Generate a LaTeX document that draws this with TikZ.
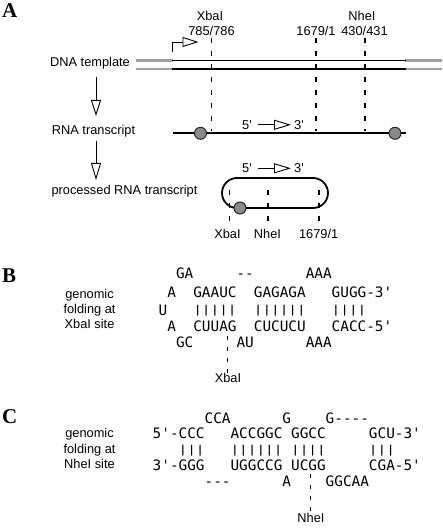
\documentclass[tikz,border=0pt]{standalone}
\usepackage{fontspec}
\usepackage{graphicx}
\setmainfont{Liberation Sans}
\newfontfamily\seqfont{DejaVu Sans Mono}
\newfontfamily\panelfont{Liberation Serif}
\usetikzlibrary{arrows.meta}
\definecolor{dnagray}{HTML}{A0A0A0}
\definecolor{dotgray}{HTML}{8A8A8A}
\newcommand\q{\textquotesingle}
\newcommand\bars[1]{\scalebox{1}[0.75]{#1}}
\tikzset{
  lab/.style={font=\fontsize{12.8}{14}\selectfont, inner sep=0pt, anchor=base},
  panel/.style={font=\panelfont\bfseries\fontsize{21}{22}\selectfont, inner sep=0pt, anchor=base west},
  seq/.style={font=\seqfont\fontsize{14.37}{16}\selectfont, inner sep=0pt, anchor=base west},
  dnaline/.style={line width=1.8pt},
  grayline/.style={line width=2.8pt, dnagray},
  guide/.style={line width=1.1pt, dash pattern=on 5pt off 8pt},
  flow/.style={line width=0.9pt, -{Triangle[open, length=16pt, width=10pt]}},
  small arrow/.style={line width=0.9pt, -{Triangle[open, length=17pt, width=10pt]}},
  dot/.style={circle, fill=dotgray, draw=black!85, line width=1pt, minimum size=12pt, inner sep=0pt},
}
\begin{document}
\begin{tikzpicture}[x=1pt, y=-1pt]
\useasboundingbox[fill=white] (0,0) rectangle (442,529);

% ---------- Panel A ----------
\node[panel] (pa) at (2,18) {A};

\node[lab] (xba) at (210,21) {XbaI};
\node[lab] (xbn) at (211.5,36) {785/786};
\node[lab] (nhe) at (362,21) {NheI};
\node[lab] (n1679) at (316,36) {1679/1};
\node[lab] (nhen) at (364.5,36) {430/431};

% DNA template
\draw[grayline] (136,60.5) -- (173,60.5);
\draw[grayline] (136,69) -- (173,69);
\draw[grayline] (405,60.5) -- (442,60.5);
\draw[grayline] (405,69) -- (442,69);
\draw[dnaline] (172,60.5) -- (406,60.5);
\draw[dnaline] (172,69) -- (406,69);

% promoter
\coordinate (prs) at (172.5,52.5);
\coordinate (pre) at (198.5,42);
\draw[line width=0.9pt, -{Triangle[open, length=16pt, width=10pt]}] (prs) |- (pre);

% guide lines
\draw[guide] (211.7,38) -- (211.7,131);
\draw[guide] (316,38) -- (316,131);
\draw[guide] (365,38) -- (365,131);

\node[lab] (dna) at (90,66.5) {DNA template};
\node[lab] (rna) at (93.5,134.5) {RNA transcript};
\node[lab] (proc) at (124.5,194.5) {processed RNA transcript};

\coordinate (f1a) at (96,77);
\coordinate (f1b) at (96,116);
\draw[flow] (f1a) -- (f1b);
\coordinate (f2a) at (96,141);
\coordinate (f2b) at (96,180);
\draw[small arrow] (f2a) -- (f2b);

% RNA transcript
\draw[dnaline] (173,133.3) -- (406,133.3);
\node[dot] (c1) at (200.5,133.3) {};
\node[dot] (c2) at (395,133.3) {};
\node[lab] (r5) at (247,129.5) {5\q};
\node[lab] (r3) at (299,129.5) {3\q};
\draw[line width=0.9pt, -{Triangle[open, length=17pt, width=10pt]}] (258,124.8) -- (291,124.8);

% processed loop
\node[lab] (l5) at (247,173) {5\q};
\node[lab] (l3) at (299,173) {3\q};
\draw[line width=0.9pt, -{Triangle[open, length=17pt, width=10pt]}] (258,168.3) -- (291,168.3);
\draw[guide] (229.3,190) -- (229.3,224);
\draw[guide] (268,190) -- (268,224);
\draw[guide] (319,190) -- (319,224);
\draw[line width=1.8pt, rounded corners=15pt] (222,178) rectangle (328,208);
\node[dot] (c3) at (240,208) {};
\node[lab] (lx) at (227.5,238) {XbaI};
\node[lab] (ln) at (267.5,238) {NheI};
\node[lab] (l16) at (318.7,238) {1679/1};

% ---------- Panel B ----------
\node[panel] (pb) at (2,282) {B};
\node[lab] (gb1) at (89.5,298) {genomic};
\node[lab] (gb2) at (89.5,313.5) {folding at};
\node[lab] (gb3) at (89.5,328.5) {XbaI site};

\def\xb{158.5}
\def\p{8.65}
\node[seq] (b11) at ({\xb+2*\p},278.8) {GA};
\node[seq] (b12) at ({\xb+9*\p},278.8) {--};
\node[seq] (b13) at ({\xb+17*\p},278.8) {AAA};
\node[seq] (b21) at ({\xb+1*\p},297.3) {A};
\node[seq] (b22) at ({\xb+4*\p},297.3) {GAAUC};
\node[seq] (b23) at ({\xb+11*\p},297.3) {GAGAGA};
\node[seq] (b24) at ({\xb+20*\p},297.3) {GUGG-3\q};
\node[seq] (b31) at ({\xb+0*\p},315) {U};
\node[seq] (b32) at ({\xb+4*\p},313) {\bars{|||||}};
\node[seq] (b33) at ({\xb+11*\p},313) {\bars{||||||}};
\node[seq] (b34) at ({\xb+20*\p},313) {\bars{||||}};
\node[seq] (b41) at ({\xb+1*\p},331.8) {A};
\node[seq] (b42) at ({\xb+4*\p},331.8) {CUUAG};
\node[seq] (b43) at ({\xb+11*\p},331.8) {CUCUCU};
\node[seq] (b44) at ({\xb+20*\p},331.8) {CACC-5\q};
\node[seq] (b51) at ({\xb+2*\p},347.3) {GC};
\node[seq] (b52) at ({\xb+9*\p},347.3) {AU};
\node[seq] (b53) at ({\xb+17*\p},347.3) {AAA};
\node[lab] (bx) at (228,382.5) {XbaI};
\coordinate (bxt) at (227.7,336);
\draw[guide, dash pattern=on 4pt off 7pt] (bxt) -- (bxt |- bx.north);

% ---------- Panel C ----------
\node[panel] (pc) at (2,423) {C};
\node[lab] (gc1) at (89.5,437.5) {genomic};
\node[lab] (gc2) at (89.5,453) {folding at};
\node[lab] (gc3) at (89.5,468) {NheI site};

\def\xc{152.5}
\node[seq] (c11) at ({\xc+6*\p},423.3) {CCA};
\node[seq] (c12) at ({\xc+15*\p},423.3) {G};
\node[seq] (c13) at ({\xc+20*\p},423.3) {G----};
\node[seq] (c21) at ({\xc+0*\p},438.3) {5\q-CCC};
\node[seq] (c22) at ({\xc+9*\p},438.3) {ACCGGC};
\node[seq] (c23) at ({\xc+16*\p},438.3) {GGCC};
\node[seq] (c24) at ({\xc+25*\p},438.3) {GCU-3\q};
\node[seq] (c31) at ({\xc+3*\p},453) {\bars{|||}};
\node[seq] (c32) at ({\xc+9*\p},453) {\bars{||||||}};
\node[seq] (c33) at ({\xc+16*\p},453) {\bars{||||}};
\node[seq] (c34) at ({\xc+25*\p},453) {\bars{|||}};
\node[seq] (c41) at ({\xc+0*\p},470.3) {3\q-GGG};
\node[seq] (c42) at ({\xc+9*\p},470.3) {UGGCCG};
\node[seq] (c43) at ({\xc+16*\p},470.3) {UCGG};
\node[seq] (c44) at ({\xc+25*\p},470.3) {CGA-5\q};
\node[seq] (c51) at ({\xc+6*\p},486.3) {---};
\node[seq] (c52) at ({\xc+15*\p},486.3) {A};
\node[seq] (c53) at ({\xc+20*\p},486.3) {GGCAA};
\node[lab] (cn) at (311,522.5) {NheI};
\coordinate (cnt) at (310.5,474);
\draw[guide, dash pattern=on 4pt off 7pt] (cnt) -- (cnt |- cn.north);
\end{tikzpicture}
\end{document}
